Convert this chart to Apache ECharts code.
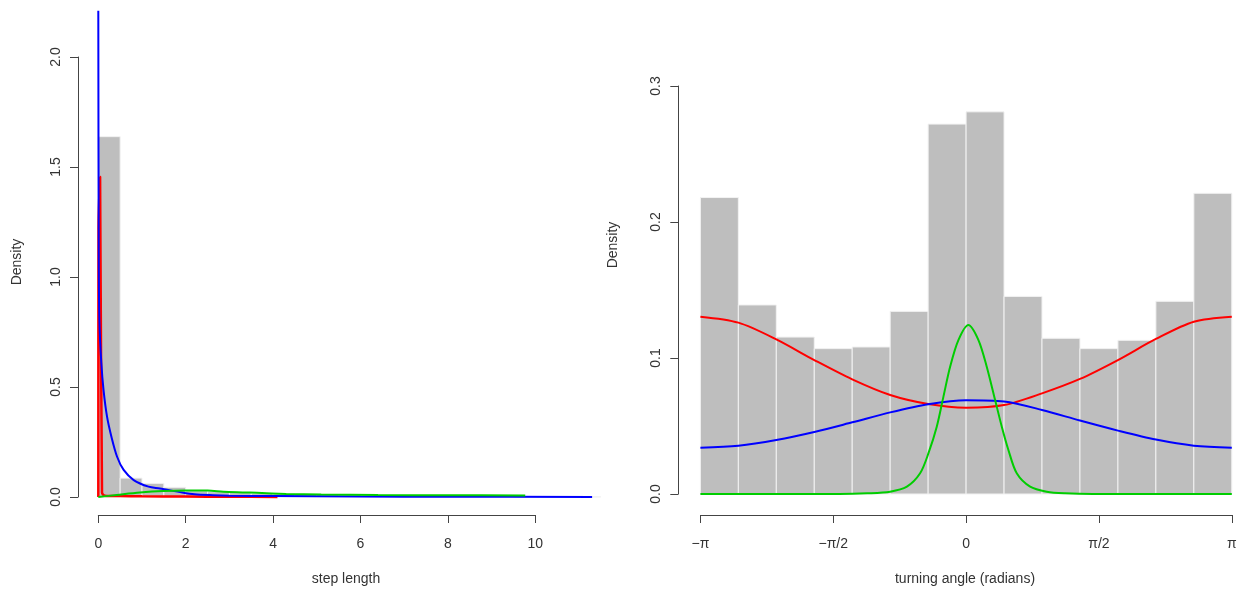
<!DOCTYPE html>
<html><head><meta charset="utf-8">
<script src="https://cdn.jsdelivr.net/npm/echarts@6/dist/echarts.min.js"></script>
<style>html,body{margin:0;padding:0;background:#fff}#c{width:1241px;height:596px}</style>
</head><body><div id="c"></div><script>
// ---------- Left panel: step length ----------
const stepBreaks  = [0,0.5,1,1.5,2,2.5,3,3.5,4,4.5,5,5.5,6,6.5,7,7.5,8,8.5,9,9.5,10,10.5,11,11.5];
const stepDensity = [1.638,0.086,0.062,0.044,0.028,0.024,0.020,0.017,0.014,0.012,0.010,0.008,0.007,0.005,0.004,0.003,0.003,0.002,0.002,0.001,0.001,0.001,0.0005];
const stepTicks   = [0,2,4,6,8,10];
const densTicksL  = [0,0.5,1,1.5,2];

const stepRedX   = [0, 0.005, 0.041, 0.085, 0.15, 0.5, 1.0, 2.0, 3.0, 4.1];
const stepRedY   = [0, 1.22, 1.455, 0.02, 0.006, 0.004, 0.003, 0.002, 0.001, 0.0005];
const stepBlueX  = [0, 0.01, 0.025, 0.069, 0.12, 0.2, 0.3, 0.43, 0.58, 0.81, 1.15, 1.41, 1.92, 2.2, 2.63, 3.0, 4.0, 6.0, 8.0, 11.3];
const stepBlueY  = [2.21, 1.1, 0.8, 0.61, 0.486, 0.365, 0.274, 0.183, 0.123, 0.077, 0.047, 0.039, 0.020, 0.012, 0.008, 0.006, 0.004, 0.002, 0.001, 0.0005];
const stepGreenX = [0, 0.42, 0.95, 1.49, 2.0, 2.5, 2.86, 3.3, 3.63, 4.3, 5.1, 6.4, 8.0, 9.77];
const stepGreenY = [0, 0.009, 0.020, 0.027, 0.029, 0.029, 0.024, 0.021, 0.019, 0.014, 0.011, 0.009, 0.008, 0.007];

// ---------- Right panel: turning angle ----------
const angleBinCount = 14;
const angleDensity = [0.218,0.139,0.1154,0.1069,0.1081,0.1343,0.272,0.281,0.1453,0.1145,0.1069,0.1130,0.1417,0.2211];
const angleTickLabels = ['\u2212\u03c0','\u2212\u03c0/2','0','\u03c0/2','\u03c0'];
const densTicksR = [0,0.1,0.2,0.3];

const angleCurveX = [-3.1416,-2.6928,-2.2440,-1.7952,-1.3464,-0.8976,-0.4488,0,0.4488,0.8976,1.3464,1.7952,2.2440,2.6928,3.1416];
const angleRedY   = [0.1304,0.126,0.1137,0.0985,0.0843,0.0728,0.0662,0.0635,0.0654,0.074,0.0846,0.0985,0.114,0.1267,0.1304];
const angleBlueY  = [0.034,0.0355,0.0397,0.0456,0.0527,0.060,0.066,0.069,0.068,0.0618,0.054,0.0466,0.040,0.0355,0.034];
const angleGreenX = [-3.1416,-1.5,-1.17,-0.898,-0.70,-0.544,-0.445,-0.347,-0.268,-0.189,-0.091,0.027,0.146,0.244,0.343,0.422,0.50,0.599,0.757,0.954,1.17,1.5,3.1416];
const angleGreenY = [0,0,0.0005,0.0017,0.0054,0.0152,0.030,0.0495,0.0716,0.0936,0.1132,0.1243,0.1132,0.0936,0.0691,0.0495,0.0324,0.0152,0.0054,0.0017,0.0005,0,0];

// ---------- layout (pixels) ----------
const W = 1241, H = 596;
const PI = Math.PI;
// left panel: tick-range box and plot-region box
const LT = { x0: 98.3, x1: 535.3, y0: 497, y1: 57 };     // value 0..10 , 0..2
const LP = { left: 78, right: 612, top: 10, bottom: 515 };
// right panel
const RT = { x0: 700.4, x1: 1231.8, y0: 494, y1: 86 };   // -pi..pi , 0..0.3
const RP = { left: 678.3, right: W, top: 10, bottom: 515 };

function extent(t, p, vx0, vx1, vy0, vy1) {
  const sx = (vx1 - vx0) / (t.x1 - t.x0), sy = (vy1 - vy0) / (t.y0 - t.y1);
  return {
    xmin: vx0 - (t.x0 - p.left) * sx, xmax: vx1 + (p.right - t.x1) * sx,
    ymin: vy0 - (p.bottom - t.y0) * sy, ymax: vy1 + (t.y1 - p.top) * sy
  };
}
const LE = extent(LT, LP, 0, 10, 0, 2);
const RE = extent(RT, RP, -PI, PI, 0, 0.3);

// ---------- build ----------
const angleBreaks = Array.from({length: angleBinCount + 1}, (_, i) => -PI + i * 2 * PI / angleBinCount);
const zip = (xs, ys) => xs.map((x, i) => [x, ys[i]]);
const hist = (br, d) => d.map((v, i) => [br[i], br[i + 1], v]);

function histItem(params, api) {
  const p0 = api.coord([api.value(0), api.value(2)]);
  const p1 = api.coord([api.value(1), 0]);
  return { type: 'rect',
    shape: { x: p0[0], y: p0[1], width: p1[0] - p0[0], height: p1[1] - p0[1] },
    style: { fill: '#BEBEBE', stroke: '#F2F2F2', lineWidth: 1 } };
}

const FONT = 'Liberation Sans, Arial, sans-serif';
const axisCol = '#444';
const lblCol = '#333';

function xAx(gi, min, max, interval, fmt, offset) {
  return { gridIndex: gi, type: 'value', min, max, interval, position: 'bottom', offset,
    splitLine: { show: false },
    axisLine: { show: true, onZero: false, lineStyle: { color: axisCol, width: 1 } },
    axisTick: { show: true, length: 8, lineStyle: { color: axisCol } },
    axisLabel: { show: true, margin: 22, color: lblCol, fontSize: 14, fontFamily: FONT, formatter: fmt, showMinLabel: true, showMaxLabel: true } };
}
function yAx(gi, min, max, interval, offset) {
  return { gridIndex: gi, type: 'value', min, max, interval, position: 'left', offset,
    splitLine: { show: false },
    axisLine: { show: true, onZero: false, lineStyle: { color: axisCol, width: 1 } },
    axisTick: { show: true, length: 8, lineStyle: { color: axisCol } },
    axisLabel: { show: true, rotate: 90, margin: 15, color: lblCol, fontSize: 14, fontFamily: FONT,
      formatter: v => v.toFixed(1), showMinLabel: true, showMaxLabel: true } };
}
function hiddenAx(gi, min, max) {
  return { gridIndex: gi, type: 'value', min, max, show: false, splitLine: { show: false } };
}
function line(xi, yi, data, color, w) {
  return { type: 'line', xAxisIndex: xi, yAxisIndex: yi, data, showSymbol: false, symbol: 'none',
    smooth: 0.3, silent: true, lineStyle: { color, width: w } };
}

const angleFmt = v => {
  const k = Math.round(v / (PI / 2));
  if (Math.abs(v - k * PI / 2) > 1e-6) return '';
  return angleTickLabels[k + 2] || '';
};

const option = {
  animation: false,
  backgroundColor: '#ffffff',
  textStyle: { fontFamily: FONT },
  grid: [
    // axis grids (tick ranges)
    { left: LT.x0, right: W - LT.x1, top: LT.y1, bottom: H - LT.y0 },
    { left: RT.x0, right: W - RT.x1, top: RT.y1, bottom: H - RT.y0 },
    // data grids (plot regions)
    { left: LP.left, right: W - LP.right, top: LP.top, bottom: H - LP.bottom },
    { left: RP.left, right: W - RP.right, top: RP.top, bottom: H - RP.bottom }
  ],
  xAxis: [
    xAx(0, stepTicks[0], stepTicks[stepTicks.length - 1], 2, v => String(v), LP.bottom - LT.y0),
    xAx(1, -PI, PI, PI / 2, angleFmt, RP.bottom - RT.y0),
    hiddenAx(2, LE.xmin, LE.xmax),
    hiddenAx(3, RE.xmin, RE.xmax)
  ],
  yAxis: [
    yAx(0, densTicksL[0], densTicksL[densTicksL.length - 1], 0.5, LT.x0 - LP.left),
    yAx(1, densTicksR[0], densTicksR[densTicksR.length - 1], 0.1, RT.x0 - RP.left),
    hiddenAx(2, LE.ymin, LE.ymax),
    hiddenAx(3, RE.ymin, RE.ymax)
  ],
  series: [
    { type: 'custom', xAxisIndex: 2, yAxisIndex: 2, renderItem: histItem, silent: true,
      encode: { x: [0, 1], y: 2 }, data: hist(stepBreaks, stepDensity) },
    line(2, 2, zip(stepRedX, stepRedY), '#FF0000', 2.5),
    line(2, 2, zip(stepBlueX, stepBlueY), '#0000FF', 2),
    line(2, 2, zip(stepGreenX, stepGreenY), '#00CD00', 2),
    { type: 'custom', xAxisIndex: 3, yAxisIndex: 3, renderItem: histItem, silent: true,
      encode: { x: [0, 1], y: 2 }, data: hist(angleBreaks, angleDensity) },
    line(3, 3, zip(angleCurveX, angleRedY), '#FF0000', 2),
    line(3, 3, zip(angleCurveX, angleBlueY), '#0000FF', 2),
    line(3, 3, zip(angleGreenX, angleGreenY), '#00CD00', 2)
  ],
  graphic: [
    { type: 'text', x: 17, y: 262, rotation: PI / 2, style: { text: 'Density', fill: lblCol, font: '14px ' + FONT, align: 'center', verticalAlign: 'middle' } },
    { type: 'text', x: 613, y: 245, rotation: PI / 2, style: { text: 'Density', fill: lblCol, font: '14px ' + FONT, align: 'center', verticalAlign: 'middle' } },
    { type: 'text', x: 346, y: 579, style: { text: 'step length', fill: lblCol, font: '14px ' + FONT, align: 'center', verticalAlign: 'middle' } },
    { type: 'text', x: 965, y: 579, style: { text: 'turning angle (radians)', fill: lblCol, font: '14px ' + FONT, align: 'center', verticalAlign: 'middle' } }
  ]
};
const chart = echarts.init(document.getElementById('c'), null, { renderer: 'canvas' });
chart.setOption(option);
</script></body></html>
